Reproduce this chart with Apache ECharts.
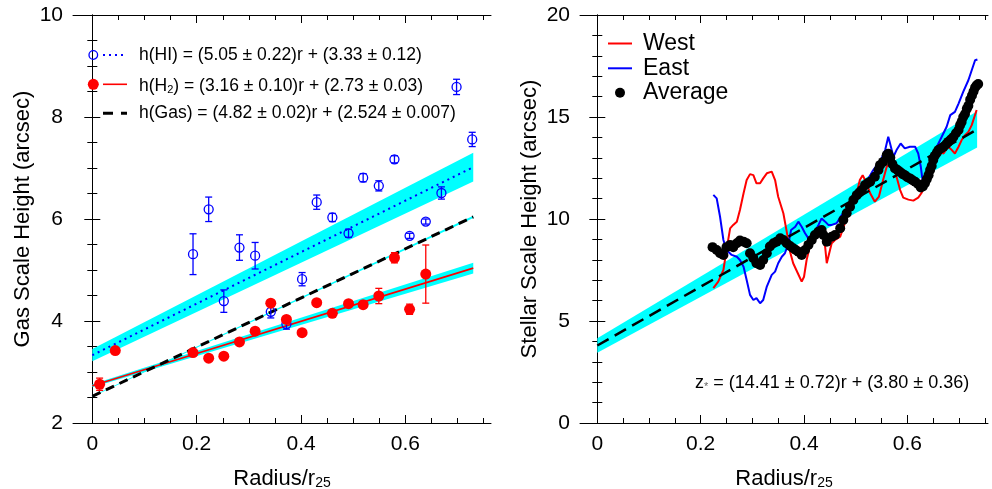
<!DOCTYPE html>
<html><head><meta charset="utf-8">
<script src="https://cdn.jsdelivr.net/npm/echarts@6/dist/echarts.min.js"></script>
<style>html,body{margin:0;padding:0;background:#fff}#c{width:992px;height:489px}</style>
</head><body><div id="c"></div><script>
// ---------- data: left panel (gas) ----------
const hiR   = [0.193,0.223,0.252,0.282,0.312,0.342,0.372,0.402,0.430,0.460,0.491,0.519,0.549,0.579,0.608,0.639,0.669,0.698,0.728];
const hiH   = [5.31,6.19,4.39,5.44,5.28,4.18,3.94,4.82,6.33,6.03,5.72,6.81,6.65,7.17,5.67,5.95,6.51,8.59,7.56];
const hiErr = [0.40,0.24,0.22,0.25,0.26,0.12,0.10,0.13,0.14,0.08,0.08,0.08,0.10,0.07,0.05,0.05,0.12,0.15,0.14];
const h2R   = [0.014,0.044,0.193,0.223,0.252,0.282,0.312,0.342,0.372,0.402,0.430,0.460,0.491,0.519,0.549,0.579,0.608,0.639];
const h2H   = [2.76,3.42,3.38,3.27,3.31,3.59,3.80,4.35,4.03,3.77,4.36,4.15,4.34,4.32,4.49,5.24,4.23,4.92];
const h2Err = [0.12,0.04,0.04,0.04,0.04,0.04,0.04,0.05,0.05,0.04,0.04,0.04,0.05,0.05,0.15,0.10,0.10,0.57];
// fit parameters [slope, slopeErr, intercept, interceptErr] and end radius
const fitHI  = [5.05, 0.22, 3.33, 0.12];
const fitH2  = [3.16, 0.10, 2.73, 0.03];
const fitGas = [4.82, 0.02, 2.524, 0.007];
const fitEndL = 0.73;
// ---------- data: right panel (stellar) ----------
const westR = [0.2245,0.234,0.244,0.250,0.257,0.263,0.270,0.276,0.283,0.289,0.2955,0.302,0.308,0.315,0.321,0.328,0.3375,0.344,0.350,0.360,0.3665,0.373,0.379,0.388,0.3955,0.400,0.405,0.412,0.421,0.431,0.4375,0.441,0.444,0.4535,0.460,0.470,0.479,0.492,0.502,0.508,0.5135,0.521,0.528,0.537,0.545,0.553,0.560,0.5665,0.573,0.579,0.586,0.592,0.602,0.6115,0.621,0.628,0.634,0.644,0.657,0.663,0.670,0.679,0.686,0.692,0.699,0.705,0.7115,0.718,0.7245,0.734];
const westZ = [6.61,6.93,7.50,8.48,9.54,9.71,9.87,10.44,11.26,11.91,12.20,12.15,11.75,11.75,11.99,12.24,12.32,11.91,11.09,10.28,9.38,8.40,7.83,7.34,6.93,7.17,7.99,8.72,9.06,9.22,9.13,8.60,7.83,8.81,8.97,9.13,9.79,10.77,11.26,11.91,12.15,11.75,11.26,10.85,11.10,11.91,12.56,12.73,12.64,12.07,11.42,11.05,10.95,10.90,11.05,11.30,12.07,12.80,13.21,13.29,13.21,13.54,13.38,13.21,13.54,13.87,14.11,14.27,14.60,15.34];
const eastR = [0.2245,0.231,0.2375,0.244,0.250,0.260,0.270,0.276,0.283,0.289,0.2955,0.302,0.308,0.315,0.321,0.328,0.3375,0.344,0.350,0.357,0.363,0.370,0.375,0.383,0.389,0.3955,0.402,0.4085,0.415,0.421,0.428,0.434,0.441,0.447,0.4535,0.463,0.473,0.486,0.4955,0.505,0.515,0.5245,0.534,0.544,0.550,0.557,0.563,0.5665,0.573,0.579,0.587,0.595,0.605,0.615,0.621,0.626,0.631,0.6375,0.647,0.657,0.6665,0.676,0.683,0.692,0.699,0.708,0.718,0.7245,0.731,0.7355];
const eastZ = [11.18,11.01,10.11,8.97,8.48,8.24,8.15,7.99,7.66,7.01,6.28,6.03,6.12,5.87,6.03,6.69,7.26,7.42,7.83,8.15,8.32,8.81,9.46,9.62,9.87,9.62,9.30,9.05,9.13,9.38,9.71,10.03,9.87,9.71,9.71,9.79,10.20,10.52,10.85,11.01,11.42,11.99,12.40,12.73,12.97,13.38,14.03,13.70,13.05,13.38,13.70,13.46,13.54,13.54,13.21,12.56,11.58,12.24,12.89,13.54,14.03,14.52,15.09,15.25,15.66,16.23,16.80,17.29,17.78,17.82];
const avgR = [0.223,0.231,0.2375,0.244,0.250,0.257,0.263,0.270,0.276,0.283,0.289,0.2955,0.302,0.308,0.315,0.321,0.328,0.334,0.341,0.347,0.354,0.360,0.3665,0.373,0.379,0.384,0.389,0.3955,0.402,0.4085,0.415,0.421,0.428,0.434,0.4375,0.444,0.4535,0.460,0.470,0.476,0.4825,0.489,0.4955,0.502,0.507,0.512,0.518,0.523,0.528,0.537,0.544,0.547,0.553,0.560,0.563,0.567,0.571,0.576,0.581,0.586,0.591,0.595,0.600,0.605,0.610,0.615,0.621,0.626,0.630,0.634,0.6375,0.641,0.644,0.647,0.650,0.653,0.657,0.660,0.665,0.670,0.675,0.679,0.684,0.689,0.694,0.699,0.702,0.705,0.708,0.7115,0.715,0.718,0.7215,0.725,0.728,0.731,0.734,0.737];
const avgZ = [8.62,8.48,8.32,8.24,8.62,8.73,8.62,8.81,8.94,8.89,8.81,8.32,8.08,7.83,7.75,7.99,8.32,8.65,8.81,8.89,9.06,8.97,8.81,8.68,8.57,8.48,8.40,8.24,8.48,8.73,8.97,9.22,9.38,9.46,9.22,8.89,9.13,9.22,9.55,9.95,10.28,10.60,10.93,11.17,11.30,11.42,11.66,11.75,11.83,12.07,12.40,12.64,12.80,13.13,13.20,13.00,12.70,12.48,12.40,12.30,12.20,12.15,12.05,11.99,11.90,11.83,11.70,11.55,11.60,11.75,11.95,12.15,12.40,12.60,12.89,13.10,13.25,13.38,13.46,13.54,13.66,13.78,13.90,14.02,14.20,14.36,14.60,14.76,15.00,15.15,15.40,15.55,15.85,16.05,16.25,16.45,16.55,16.62];
const fitStar = [14.41, 0.72, 3.80, 0.36];
const fitEndR = 0.735;
// ---------- ticks ----------
const xMajor = [0, 0.2, 0.4, 0.6];
const xMinor = [0.05,0.1,0.15,0.25,0.3,0.35,0.45,0.5,0.55,0.65,0.7,0.75];

const FONT = 'Liberation Sans, Arial, Helvetica, sans-serif';
const CYAN = '#00ffff', BLUE = '#0000ff', RED = '#ff0000';

function fitLine(f, end){ return [[0, f[2]], [end, f[0]*end + f[2]]]; }
function bandRows(f, end){
  return [0, end].map(x => [x, (f[0]-f[1])*x + (f[2]-f[3]), (f[0]+f[1])*x + (f[2]+f[3])]);
}
function bandSeries(rows, xi, yi){
  return {type:'custom', xAxisIndex:xi, yAxisIndex:yi, data:rows, encode:{x:0,y:1}, silent:true, z:1,
    renderItem:(params, api) => {
      if (params.dataIndex !== 0) return null;
      const up = rows.map(r => api.coord([r[0], r[2]]));
      const lo = rows.map(r => api.coord([r[0], r[1]])).reverse();
      return {type:'polygon', shape:{points:up.concat(lo)}, style:{fill:CYAN}};
    }};
}
function errSeries(xs, ys, es, color, xi, yi){
  return {type:'custom', xAxisIndex:xi, yAxisIndex:yi, z:3, silent:true,
    data: xs.map((x,i)=>[x, ys[i], es[i]]), encode:{x:0,y:1},
    renderItem:(params, api) => {
      const x=api.value(0), y=api.value(1), e=api.value(2);
      const t=api.coord([x,y+e]), b=api.coord([x,y-e]);
      const w=3.5, st={stroke:color, lineWidth:1.3};
      return {type:'group', children:[
        {type:'line', shape:{x1:t[0],y1:t[1],x2:b[0],y2:b[1]}, style:st},
        {type:'line', shape:{x1:t[0]-w,y1:t[1],x2:t[0]+w,y2:t[1]}, style:st},
        {type:'line', shape:{x1:b[0]-w,y1:b[1],x2:b[0]+w,y2:b[1]}, style:st}]};
    }};
}
const lineSt = {color:'#000', width:1};
function xAxes(gi, min, max){
  const base = {type:'value', gridIndex:gi, min:min, max:max, splitLine:{show:false}};
  const lab = {color:'#000', fontSize:21, fontFamily:FONT, margin:11, customValues:xMajor,
               formatter:v => String(Math.round(v*10)/10)};
  return [
    Object.assign({}, base, {position:'bottom', axisLine:{show:true, lineStyle:lineSt},
      axisTick:{show:true, inside:true, length:8, lineStyle:lineSt, customValues:xMajor},
      axisLabel:lab,
      name:'{a|Radius/r}{s|25}', nameLocation:'middle', nameGap:41,
      nameTextStyle:{color:'#000', fontFamily:FONT, fontSize:22,
        rich:{a:{fontSize:22, fontFamily:FONT, color:'#000', lineHeight:26, verticalAlign:'bottom'},
              s:{fontSize:14, fontFamily:FONT, color:'#000', lineHeight:14, verticalAlign:'bottom'}}}}),
    Object.assign({}, base, {position:'bottom', axisLine:{show:false},
      axisTick:{show:true, inside:true, length:5, lineStyle:lineSt, customValues:xMinor}, axisLabel:{show:false}}),
    Object.assign({}, base, {position:'top', axisLine:{show:true, lineStyle:lineSt},
      axisTick:{show:true, inside:true, length:8, lineStyle:lineSt, customValues:xMajor}, axisLabel:{show:false}}),
    Object.assign({}, base, {position:'top', axisLine:{show:false},
      axisTick:{show:true, inside:true, length:5, lineStyle:lineSt, customValues:xMinor}, axisLabel:{show:false}})
  ];
}
function yAxes(gi, min, max, interval, minorSplit, name){
  const base = {type:'value', gridIndex:gi, min:min, max:max, interval:interval, splitLine:{show:false},
    axisLine:{show:true, lineStyle:lineSt},
    axisTick:{show:true, inside:true, length:8, lineStyle:lineSt},
    minorTick:{show:true, splitNumber:minorSplit, length:5, lineStyle:lineSt}};
  return [
    Object.assign({}, base, {position:'left',
      axisLabel:{color:'#000', fontSize:21, fontFamily:FONT, margin:10},
      name:name, nameLocation:'middle', nameGap:39,
      nameTextStyle:{color:'#000', fontFamily:FONT, fontSize:22}}),
    Object.assign({}, base, {position:'right', axisLabel:{show:false}})
  ];
}

const LXmin = -0.037, LXmax = 0.764, RXmin = -0.0335, RXmax = 0.756;

const series = [
  // left panel
  bandSeries(bandRows(fitHI, fitEndL), 0, 0),
  bandSeries(bandRows(fitH2, fitEndL), 0, 0),
  bandSeries(bandRows(fitGas, fitEndL), 0, 0),
  {type:'line', xAxisIndex:0, yAxisIndex:0, data:fitLine(fitHI, fitEndL), symbol:'none', z:2,
   lineStyle:{color:BLUE, width:2, type:[2,4]}},
  {type:'line', xAxisIndex:0, yAxisIndex:0, data:fitLine(fitH2, fitEndL), symbol:'none', z:2,
   lineStyle:{color:RED, width:1.6}},
  {type:'line', xAxisIndex:0, yAxisIndex:0, data:fitLine(fitGas, fitEndL), symbol:'none', z:2,
   lineStyle:{color:'#000', width:3, type:[9,6]}},
  errSeries(hiR, hiH, hiErr, BLUE, 0, 0),
  {type:'scatter', xAxisIndex:0, yAxisIndex:0, z:4, symbol:'circle', symbolSize:9,
   data:hiR.map((r,i)=>[r,hiH[i]]), itemStyle:{color:'rgba(0,0,0,0)', borderColor:BLUE, borderWidth:1.3, opacity:1}},
  errSeries(h2R, h2H, h2Err, RED, 0, 0),
  {type:'scatter', xAxisIndex:0, yAxisIndex:0, z:4, symbol:'circle', symbolSize:11,
   data:h2R.map((r,i)=>[r,h2H[i]]), itemStyle:{color:RED, opacity:1}},
  // right panel
  bandSeries(bandRows(fitStar, fitEndR), 4, 2),
  {type:'line', xAxisIndex:4, yAxisIndex:2, data:westR.map((r,i)=>[r,westZ[i]]), symbol:'none', z:2,
   lineStyle:{color:RED, width:2}},
  {type:'line', xAxisIndex:4, yAxisIndex:2, data:eastR.map((r,i)=>[r,eastZ[i]]), symbol:'none', z:2,
   lineStyle:{color:BLUE, width:2}},
  {type:'line', xAxisIndex:4, yAxisIndex:2, data:fitLine(fitStar, fitEndR), symbol:'none', z:3,
   lineStyle:{color:'#000', width:2.5, type:[13,7]}},
  {type:'scatter', xAxisIndex:4, yAxisIndex:2, z:4, symbol:'circle', symbolSize:10,
   data:avgR.map((r,i)=>[r,avgZ[i]]), itemStyle:{color:'#000', opacity:1}}
];

const txt = (x, y, text, size, rich) => ({type:'text', x:x, y:y, z:100,
  style:{text:text, fill:'#000', fontSize:size, fontFamily:FONT, verticalAlign:'middle', align:'left', rich:rich}});
const richL = {a:{fontSize:17.5, fontFamily:FONT, fill:'#000', lineHeight:22, verticalAlign:'bottom'},
               s:{fontSize:11, fontFamily:FONT, fill:'#000', lineHeight:11, verticalAlign:'bottom'}};
const graphic = [
  // left legend
  {type:'circle', shape:{cx:93.3, cy:55, r:4.3}, style:{fill:'none', stroke:BLUE, lineWidth:1.3}, z:100},
  {type:'line', shape:{x1:103, y1:55, x2:127, y2:55}, style:{stroke:BLUE, lineWidth:2, lineDash:[2,4]}, z:100},
  txt(139, 55, 'h(HI) = (5.05 ± 0.22)r + (3.33 ± 0.12)', 17.5),
  {type:'circle', shape:{cx:93.3, cy:84.3, r:5.5}, style:{fill:RED}, z:100},
  {type:'line', shape:{x1:103, y1:84.3, x2:127, y2:84.3}, style:{stroke:RED, lineWidth:1.6}, z:100},
  txt(139, 84.3, '{a|h(H}{s|2}{a|) = (3.16 ± 0.10)r + (2.73 ± 0.03)}', 17.5, richL),
  {type:'line', shape:{x1:103, y1:113.3, x2:127, y2:113.3}, style:{stroke:'#000', lineWidth:3, lineDash:[10,8]}, z:100},
  txt(139, 113.3, 'h(Gas) = (4.82 ± 0.02)r + (2.524 ± 0.007)', 17.5),
  // right legend
  {type:'line', shape:{x1:608, y1:43.5, x2:632, y2:43.5}, style:{stroke:RED, lineWidth:2}, z:100},
  txt(643, 43.5, 'West', 23),
  {type:'line', shape:{x1:608, y1:68.3, x2:632, y2:68.3}, style:{stroke:BLUE, lineWidth:2}, z:100},
  txt(643, 68.3, 'East', 23),
  {type:'circle', shape:{cx:620, cy:92.7, r:5}, style:{fill:'#000'}, z:100},
  txt(643, 92.7, 'Average', 23),
  txt(695, 381.5, '{a|z}{s|*}{a| = (14.41 ± 0.72)r + (3.80 ± 0.36)}', 18,
      {a:{fontSize:18, fontFamily:FONT, fill:'#000', lineHeight:22, verticalAlign:'bottom'},
       s:{fontSize:11, fontFamily:FONT, fill:'#666', lineHeight:11, verticalAlign:'bottom'}})
];

const chart = echarts.init(document.getElementById('c'), null, {renderer:'canvas'});
chart.setOption({
  animation:false,
  backgroundColor:'#fff',
  grid:[{left:73, top:15, width:418, height:408, outerBoundsMode:'none', containLabel:false},
        {left:580, top:15, width:408, height:408, outerBoundsMode:'none', containLabel:false}],
  xAxis: xAxes(0, LXmin, LXmax).concat(xAxes(1, RXmin, RXmax)),
  yAxis: yAxes(0, 2, 10, 2, 4, 'Gas Scale Height (arcsec)')
         .concat(yAxes(1, 0, 20, 5, 5, 'Stellar Scale Height (arcsec)')),
  series: series,
  graphic: graphic
});
</script></body></html>
